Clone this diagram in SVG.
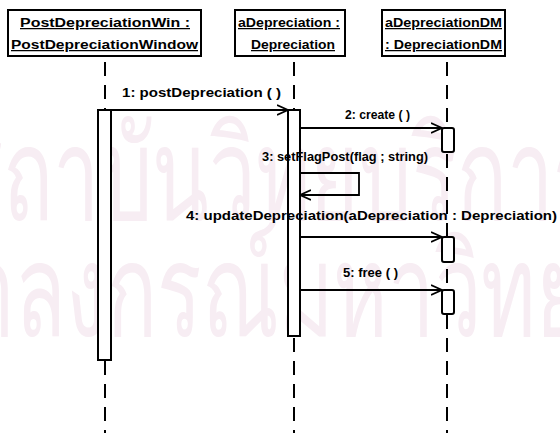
<svg xmlns="http://www.w3.org/2000/svg" width="560" height="433" viewBox="0 0 560 433">
<defs>
<style>
.obj{fill:#fff;stroke:#000;stroke-width:2}
.act{fill:#fff;stroke:#000;stroke-width:2}
.life{stroke:#000;stroke-width:2;stroke-dasharray:14 9;fill:none}
.msg{stroke:#000;stroke-width:1.8;fill:none}
.t{font-family:"Liberation Sans",Arial,sans-serif;font-weight:bold;font-size:12.5px;fill:#000}
.n{text-decoration:underline}
.wm{font-family:"Noto Sans","DejaVu Sans",sans-serif;font-size:100px;fill:#f7edf3}
</style>
<marker id="arr" markerWidth="12" markerHeight="12" refX="11" refY="6" orient="auto" markerUnits="userSpaceOnUse">
<path d="M0,1 L11,6 L0,11" fill="none" stroke="#000" stroke-width="1.8"/>
</marker>
</defs>
<rect width="560" height="433" fill="#fff"/>
<g id="watermark">
<text class="wm" transform="translate(-48,220) scale(0.83,1.3)">สถาบันวิทยบริการ</text>
<text class="wm" transform="translate(-137,336) scale(0.83,1.3)">จุฬาลงกรณ์มหาวิทยาลัย</text>
</g>
<g id="lifelines">
<line class="life" x1="105" y1="62" x2="105" y2="433"/>
<line class="life" x1="294" y1="62" x2="294" y2="433"/>
<line class="life" x1="447" y1="62" x2="447" y2="433"/>
</g>
<g id="obj1">
<rect class="obj" x="8" y="10" width="193" height="46"/>
<text class="t n" x="20" y="27" textLength="170" lengthAdjust="spacingAndGlyphs">PostDepreciationWin :</text>
<text class="t n" x="11" y="49" textLength="187" lengthAdjust="spacingAndGlyphs">PostDepreciationWindow</text>
</g>
<g id="obj2">
<rect class="obj" x="235" y="10" width="110" height="46"/>
<text class="t n" x="238" y="27" textLength="102" lengthAdjust="spacingAndGlyphs">aDepreciation :</text>
<text class="t n" x="251" y="49" textLength="84" lengthAdjust="spacingAndGlyphs">Depreciation</text>
</g>
<g id="obj3">
<rect class="obj" x="382" y="10" width="123" height="46"/>
<text class="t n" x="385" y="27" textLength="117" lengthAdjust="spacingAndGlyphs">aDepreciationDM</text>
<text class="t n" x="385" y="49" textLength="117" lengthAdjust="spacingAndGlyphs">: DepreciationDM</text>
</g>
<g id="act1"><rect class="act" x="98" y="110" width="13" height="250"/></g>
<g id="act2"><rect class="act" x="288" y="110" width="12" height="226"/></g>
<g id="act3a"><rect class="act" x="442" y="128" width="12" height="24" rx="2"/></g>
<g id="act3b"><rect class="act" x="442" y="237" width="12" height="25" rx="2"/></g>
<g id="act3c"><rect class="act" x="442" y="290" width="12" height="24" rx="2"/></g>
<g id="connectors">
<line class="msg" x1="111" y1="110" x2="288" y2="110" marker-end="url(#arr)"/>
<line class="msg" x1="300" y1="128" x2="442" y2="128" marker-end="url(#arr)"/>
<polyline class="msg" points="300,173 359,173 359,195 300,195" marker-end="url(#arr)"/>
<line class="msg" x1="300" y1="237" x2="442" y2="237" marker-end="url(#arr)"/>
<line class="msg" x1="300" y1="290" x2="442" y2="290" marker-end="url(#arr)"/>
</g>
<g id="labels">
<text class="t" x="122" y="97" textLength="159" lengthAdjust="spacingAndGlyphs">1: postDepreciation ( )</text>
<text class="t" x="345" y="119" textLength="65" lengthAdjust="spacingAndGlyphs">2: create ( )</text>
<text class="t" x="262" y="161" textLength="166" lengthAdjust="spacingAndGlyphs">3: setFlagPost(flag ; string)</text>
<text class="t" x="186" y="220" textLength="371" lengthAdjust="spacingAndGlyphs">4: updateDepreciation(aDepreciation : Depreciation)</text>
<text class="t" x="343" y="277" textLength="55" lengthAdjust="spacingAndGlyphs">5: free ( )</text>
</g>
</svg>
